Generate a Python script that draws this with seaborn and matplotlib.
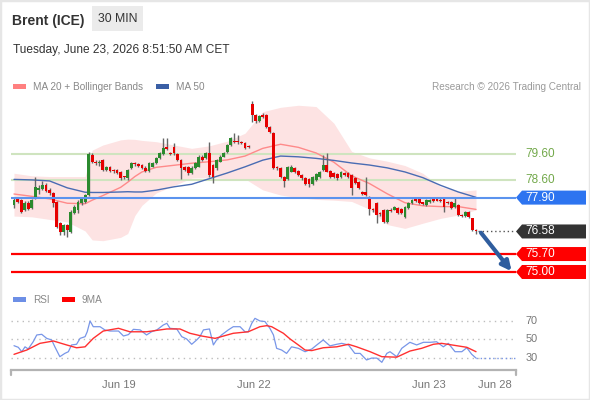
import numpy as np
import matplotlib
matplotlib.use("Agg")
import matplotlib.pyplot as plt
import seaborn as sns
from matplotlib.patches import Polygon, Rectangle
from matplotlib.transforms import blended_transform_factory

sns.set_theme(style="white")
plt.rcParams['font.family'] = ['Liberation Sans', 'DejaVu Sans']

# ---------------- data ----------------
opens = [77.62, 77.87, 77.80, 77.42, 77.70, 77.48, 77.88, 78.20, 78.22, 78.40, 78.20, 78.07, 77.74, 76.90, 76.57, 76.83, 76.57, 77.30, 77.40, 77.68, 77.74, 78.00,
         79.56, 79.30, 79.24, 79.36, 78.98, 79.08, 78.95, 78.97, 78.90, 78.72,
         78.65, 79.04, 79.24, 79.20, 79.17, 79.07, 78.92, 79.11, 79.24, 79.43, 79.59, 79.89, 79.63, 79.89, 79.59, 79.37, 79.11, 79.11, 78.85, 79.04, 79.11, 79.50, 79.43, 79.63, 79.17, 79.04, 79.30, 79.50, 79.69, 79.95, 80.12, 80.08, 80.06, 80.04, 79.90,
         81.56, 81.12, 80.89, 81.10, 81.12, 80.67, 80.41, 79.11, 79.07, 78.72, 78.63, 78.91, 79.04, 78.94, 78.78, 78.68, 78.63, 78.42, 78.59, 78.72,
         78.98, 79.17, 78.94, 78.85, 78.81, 78.72, 78.87, 78.87, 78.78, 78.66, 78.52, 78.13, 78.13,
         77.90, 77.45, 77.68, 77.29, 77.42, 76.96, 77.42, 77.42, 77.48, 77.44, 77.16, 77.48, 77.68, 77.85, 77.84, 77.70, 77.61, 77.74, 77.84, 77.81, 77.80, 77.84, 77.72, 77.74, 77.55, 77.61, 77.22, 77.18, 77.35, 77.09, 76.64]
highs = [77.92, 77.90, 77.86, 77.78, 77.76, 77.85, 78.72, 78.38, 78.56, 78.45, 78.28, 78.12, 77.78, 76.95, 76.88, 76.88, 77.40, 77.62, 77.80, 77.92, 78.05, 79.68,
         79.62, 79.36, 79.35, 79.40, 79.15, 79.12, 79.00, 79.00, 78.95, 78.76,
         79.02, 79.30, 79.28, 79.25, 79.22, 79.12, 79.28, 79.30, 79.48, 79.66, 80.21, 80.23, 79.68, 80.02, 79.62, 79.40, 79.14, 79.15, 79.12, 79.28, 79.55, 79.55, 79.68, 80.08, 79.20, 79.40, 79.55, 79.68, 80.00, 80.25, 80.40, 80.34, 80.10, 80.08, 79.95,
         81.68, 81.15, 81.12, 81.18, 81.15, 80.70, 80.45, 79.14, 79.10, 78.75, 79.15, 79.18, 79.08, 78.98, 78.82, 78.72, 78.66, 78.75, 78.85, 78.95,
         79.56, 79.63, 78.98, 78.88, 78.85, 78.95, 78.90, 78.90, 78.82, 78.70, 78.55, 78.16, 78.72,
         77.95, 77.48, 77.72, 77.35, 77.45, 77.45, 77.48, 77.58, 77.52, 77.48, 77.58, 77.72, 77.85, 77.90, 77.87, 77.74, 77.85, 77.84, 77.88, 77.85, 77.90, 77.88, 77.76, 77.78, 77.90, 77.64, 77.26, 77.38, 77.38, 77.12, 76.66]
lows = [77.50, 77.70, 77.30, 77.38, 77.40, 77.45, 77.85, 78.05, 78.18, 78.10, 78.00, 77.55, 76.70, 76.45, 76.45, 76.38, 76.52, 77.25, 77.30, 77.62, 77.70, 77.95,
        79.25, 79.18, 79.15, 78.95, 78.95, 78.88, 78.85, 78.82, 78.60, 78.62,
        78.58, 79.00, 79.15, 79.10, 79.00, 78.88, 78.88, 79.08, 79.20, 79.40, 79.56, 79.75, 79.55, 79.58, 79.33, 78.63, 78.95, 78.80, 78.82, 79.00, 79.08, 79.32, 79.40, 78.72, 78.46, 78.98, 79.27, 79.48, 79.65, 79.92, 80.02, 80.00, 80.00, 79.80, 79.84,
        80.85, 80.80, 80.85, 81.00, 80.62, 80.42, 79.00, 78.98, 78.68, 78.33, 78.58, 78.88, 78.87, 78.74, 78.60, 78.38, 78.30, 78.38, 78.56, 78.68,
        78.95, 78.88, 78.68, 78.68, 78.60, 78.68, 78.75, 78.68, 78.00, 78.44, 78.22, 78.02, 77.98,
        77.22, 77.35, 76.90, 77.20, 76.90, 76.92, 77.33, 77.40, 77.25, 77.25, 77.12, 77.45, 77.65, 77.74, 77.65, 77.63, 77.58, 77.70, 77.74, 77.75, 77.72, 77.35, 77.64, 77.45, 77.50, 77.18, 77.15, 77.14, 77.12, 76.60, 76.48]
closes = [77.80, 77.74, 77.35, 77.70, 77.45, 77.80, 78.33, 78.28, 78.40, 78.16, 78.07, 77.68, 76.77, 76.57, 76.83, 76.63, 77.35, 77.55, 77.74, 77.87, 78.00, 79.60,
          79.30, 79.24, 79.30, 78.98, 79.10, 78.92, 78.92, 78.87, 78.65, 78.70,
          78.98, 79.24, 79.20, 79.14, 79.07, 78.92, 79.24, 79.24, 79.43, 79.63, 79.82, 79.80, 79.60, 79.63, 79.37, 79.07, 78.98, 78.85, 79.07, 79.24, 79.50, 79.37, 79.63, 78.78, 78.72, 79.37, 79.50, 79.63, 79.95, 80.21, 80.06, 80.06, 80.02, 79.85, 79.88,
          81.12, 80.90, 81.08, 81.06, 80.67, 80.47, 79.04, 79.04, 78.72, 78.56, 79.11, 79.11, 78.91, 78.78, 78.65, 78.42, 78.42, 78.72, 78.81, 78.91,
          79.17, 78.91, 78.72, 78.72, 78.65, 78.91, 78.78, 78.72, 78.26, 78.47, 78.26, 78.05, 78.00,
          77.45, 77.40, 77.22, 77.25, 76.96, 77.42, 77.38, 77.55, 77.29, 77.29, 77.55, 77.68, 77.81, 77.78, 77.68, 77.67, 77.81, 77.81, 77.78, 77.78, 77.77, 77.55, 77.68, 77.48, 77.68, 77.22, 77.18, 77.35, 77.16, 76.64, 76.58]

ind_idx = [0, 5, 10, 15, 20, 22, 25, 30, 32, 34, 36, 40, 45, 50, 55, 60, 65, 70, 75, 80, 85, 90, 95, 100, 105, 110, 115, 120, 125, 130]
ma50 = [78.61, 78.59, 78.55, 78.28, 78.11, 78.10, 78.10, 78.12, 78.13, 78.12, 78.12, 78.19, 78.32, 78.42, 78.64, 78.86, 79.10, 79.36, 79.52, 79.49, 79.43, 79.35, 79.25, 79.17, 79.06, 78.90, 78.68, 78.38, 78.12, 77.91]
ma20 = [78.04, 77.95, 77.85, 77.68, 77.66, 77.80, 77.98, 78.30, 78.50, 78.72, 78.90, 79.08, 79.16, 79.24, 79.30, 79.37, 79.52, 79.82, 79.98, 79.86, 79.64, 79.28, 78.75, 78.45, 78.05, 77.70, 77.58, 77.55, 77.55, 77.44]
bb_upper = [78.85, 78.75, 78.72, 78.72, 78.72, 79.75, 79.95, 80.15, 80.18, 80.17, 80.13, 80.08, 79.95, 79.82, 79.92, 80.10, 80.41, 81.25, 81.42, 81.50, 81.45, 80.80, 79.70, 79.45, 79.32, 79.15, 78.85, 78.33, 78.14, 78.20]
bb_lower = [77.18, 77.15, 77.05, 76.95, 76.60, 76.25, 76.22, 76.35, 76.50, 77.20, 77.60, 78.08, 78.37, 78.66, 78.68, 78.64, 78.63, 78.20, 78.00, 77.90, 77.83, 77.80, 77.75, 77.45, 76.85, 76.70, 76.90, 77.09, 77.22, 77.42]

rsi_idx = [0, 1.2, 2.2, 3.1, 4.0, 5.4, 6.4, 7.8, 9.2, 10.6, 11.5, 12.9, 14.3, 15.3, 16.2, 17.6, 18.6, 20.0, 20.6, 21.4,
           22.3, 24.2, 25.6, 27.0, 29.4, 30.8, 32.2, 33.6, 35.5, 37.3, 38.7, 40.2, 42.0, 43.0, 43.9, 45.8, 47.2, 48.6, 50.0, 51.4,
           52.3, 53.3, 55.0, 56.1, 57.0, 58.4, 60.3, 61.7, 63.6, 65.0, 65.9, 66.9, 67.8, 69.2, 70.6, 72.0, 73.0, 73.9, 75.3, 76.7,
           78.1, 80.0, 81.9, 83.8, 85.2, 87.0, 88.9, 90.8, 92.2, 94.1, 95.9, 97.4, 99.2, 100.6, 102.1, 103.5, 104.9, 105.8, 107.7, 109.1,
           111.4, 113.3, 115.2, 117.1, 118.9, 120.8, 122.2, 124.1, 126.0, 127.4, 128.8, 130.0]
rsi = [43.2, 41.5, 36.8, 42.0, 39.7, 47.4, 54.6, 55.3, 51.0, 49.3, 42.0, 31.5, 35.0, 36.8, 44.0, 44.7, 51.0, 52.8, 58.0, 69.5,
       63.4, 63.4, 59.9, 58.8, 58.8, 53.5, 55.0, 60.6, 60.0, 54.6, 58.0, 60.0, 65.2, 67.0, 61.7, 61.0, 52.8, 50.3, 44.7, 49.3,
       52.8, 60.0, 61.0, 44.0, 49.3, 54.6, 60.0, 63.4, 63.4, 58.0, 58.0, 67.0, 72.3, 69.5, 68.9, 61.7, 54.6, 40.4, 38.6, 35.0,
       42.0, 40.4, 36.8, 39.7, 44.0, 49.3, 43.0, 44.7, 45.7, 44.0, 35.0, 35.0, 28.0, 30.0, 30.0, 25.5, 35.0, 36.8, 31.5, 40.4,
       46.8, 44.0, 46.8, 46.8, 47.4, 42.0, 45.7, 36.8, 36.8, 41.0, 34.0, 30.0]
rsi_ma_idx = [0, 3.6, 7.3, 11.1, 14.8, 17.6, 20.0, 22.3, 25.1, 29.4, 32.6, 37.3, 43.0, 46.7, 49.5, 52.8, 56.6, 61.7, 65.9, 69.2,
              71.1, 72.5, 75.8, 77.7, 80.0, 81.9, 83.8, 87.0, 90.8, 94.1, 96.4, 100.2, 103.5, 107.7, 111.4, 114.7, 118.0, 120.3, 123.2, 127.4, 130.0]
rsi_ma = [34.0, 38.6, 45.7, 48.2, 44.0, 41.0, 42.0, 51.0, 58.8, 61.7, 58.0, 58.0, 61.0, 61.0, 56.4, 53.5, 51.0, 56.4, 58.0, 63.4,
          64.5, 63.4, 56.4, 50.3, 44.0, 38.6, 38.0, 41.0, 42.0, 44.7, 42.0, 36.8, 31.5, 31.0, 37.5, 40.4, 44.7, 45.7, 44.0, 41.5, 36.8]

levels = [79.60, 78.60, 77.90, 76.58, 75.70, 75.00]
level_labels = ["79.60", "78.60", "77.90", "76.58", "75.70", "75.00"]
level_kinds = ["res", "res", "pivot", "last", "sup", "sup"]

rsi_levels = [70, 50, 30]
date_ticks = [29.5, 67.5, 116.8, 135.3]
date_labels = ["Jun 19", "Jun 22", "Jun 23", "Jun 28"]

arrow_x = [131.4, 140.0]
arrow_y = [76.53, 75.03]

# ---------------- layout ----------------
W, H = 590, 400
fig = plt.figure(figsize=(W / 100, H / 100), dpi=100)
fig.patch.set_facecolor("white")

X0, DX = 14.0, 3.554          # pixel of first candle, pixel per candle
PL, PR = 11.0, 516.0          # plot left / right pixel
xlim = ((PL - X0) / DX, (PR - X0) / DX)

# price panel: pixel y = 154 + (79.60 - p) * 25.65
PPU = 25.65
p_top, p_bot = 92.0, 285.0
ax = fig.add_axes([PL / W, 1 - p_bot / H, (PR - PL) / W, (p_bot - p_top) / H])
ax.set_xlim(*xlim)
ax.set_ylim(79.60 - (p_bot - 154) / PPU, 79.60 + (154 - p_top) / PPU)
ax.set_facecolor("none")
for s in ax.spines.values():
    s.set_visible(False)
ax.set_xticks([]); ax.set_yticks([])

# Bollinger band fill + MAs
ax.fill_between(ind_idx, bb_lower, bb_upper, color="#fde3e3", lw=0, zorder=0.5)
sns.lineplot(x=ind_idx, y=ma20, ax=ax, color="#ff8a8a", lw=1.0, sort=False, estimator=None, zorder=2)
sns.lineplot(x=ind_idx, y=ma50, ax=ax, color="#4a6cb3", lw=1.0, sort=False, estimator=None, zorder=2)

# level lines
n = len(closes)
green_line, green_txt = "#cfe4bf", "#72a84a"
blue_c = "#2d74f0"
red_c = "#ff0000"
for lv, kind in zip(levels, level_kinds):
    if kind == "res":
        ax.axhline(lv, color=green_line, lw=1.5, zorder=1)
    elif kind == "pivot":
        ax.axhline(lv, color="#5b93ee", lw=1.5, zorder=5)
    elif kind == "sup":
        ax.axhline(lv, color=red_c, lw=1.6, zorder=5)
    else:
        ax.hlines(lv, n - 0.5, xlim[1], color="#555555", lw=1.0, linestyles=(0, (1, 2)), zorder=5)

# candles
x = np.arange(n)
o = np.array(opens); c = np.array(closes)
cols = np.where(c >= o, "#2b8a2e", "#e60000")
ax.vlines(x, lows, highs, color="#666666", lw=1.0, zorder=3)
body = np.maximum(np.abs(c - o), 0.05)
ax.bar(x, body, bottom=np.minimum(o, c), width=0.8, color=cols, linewidth=0, zorder=4)

# right side labels
tr = blended_transform_factory(ax.transAxes, ax.transData)
hh = 7.0 / PPU
tip, bstart, bend = 1.0, 1.0 + 6 / (PR - PL), 1.0 + 70 / (PR - PL)
txt_x = 1.0 + 9 / (PR - PL)
for lv, lab, kind in zip(levels, level_labels, level_kinds):
    if kind == "res":
        ax.text(txt_x, lv, lab, transform=tr, color=green_txt, fontsize=8.5, va="center", ha="left")
        continue
    fc = {"pivot": blue_c, "last": "#333333", "sup": red_c}[kind]
    poly = Polygon([(tip, lv), (bstart, lv + hh), (bend, lv + hh), (bend, lv - hh), (bstart, lv - hh)],
                   closed=True, transform=tr, facecolor=fc, edgecolor="none", clip_on=False, zorder=6)
    ax.add_patch(poly)
    ax.text(txt_x, lv, lab, transform=tr, color="white", fontsize=8.5, va="center", ha="left", zorder=7)

# arrow
ax.annotate("", xy=(arrow_x[1], arrow_y[1]), xytext=(arrow_x[0], arrow_y[0]),
            arrowprops=dict(arrowstyle="-|>", color="#2f5d9e", lw=3, mutation_scale=14,
                            shrinkA=0, shrinkB=0),
            annotation_clip=False, zorder=8)

# ---------------- RSI panel ----------------
r_top, r_bot = 312.0, 370.0
RPU = 0.94
ax2 = fig.add_axes([PL / W, 1 - r_bot / H, (PR - PL) / W, (r_bot - r_top) / H])
ax2.set_xlim(*xlim)
ax2.set_ylim(50 - (r_bot - 339.3) / RPU, 50 + (339.3 - r_top) / RPU)
ax2.set_facecolor("none")
for k, s in ax2.spines.items():
    s.set_visible(k == "bottom")
ax2.spines["bottom"].set_color("#b3b3b3")
ax2.spines["bottom"].set_linewidth(1.6)
for lv in rsi_levels:
    ax2.axhline(lv, color="#bdbdbd", lw=1.0, ls=(0, (1, 3)), zorder=1)
    ax2.text(1.0 + 10 / (PR - PL), lv, str(lv), transform=blended_transform_factory(ax2.transAxes, ax2.transData),
             color="#777777", fontsize=7.8, va="center", ha="left")
sns.lineplot(x=rsi_idx, y=rsi, ax=ax2, color="#7896e8", lw=0.9, sort=False, estimator=None, zorder=3)
sns.lineplot(x=rsi_ma_idx, y=rsi_ma, ax=ax2, color="#ff3030", lw=1.0, sort=False, estimator=None, zorder=4)
ax2.hlines(rsi[-1], rsi_idx[-1], xlim[1], color="#7896e8", lw=1.0, linestyles=(0, (1, 2)), zorder=3)
ax2.set_yticks([])
ax2.set_xticks(date_ticks)
ax2.set_xticklabels(date_labels)
ax2.tick_params(axis="x", length=0, pad=7, labelsize=8, labelcolor="#777777")
ax2.set_xlabel(""); ax2.set_ylabel("")
ax.set_xlabel(""); ax.set_ylabel("")
for xe in (0.0, 1.0):
    ax2.plot([xe, xe], [0, -5 / (r_bot - r_top)], transform=ax2.transAxes, color="#b3b3b3", lw=1.6, clip_on=False)

# ---------------- header / legends ----------------
def fx(px): return px / W
def fy(py): return 1 - py / H

fig.text(fx(12), fy(24.7), "Brent (ICE)", fontsize=10, fontweight="bold", color="#333333", va="baseline")
fig.patches.append(Rectangle((fx(92), fy(31)), 51 / W, 25 / H, transform=fig.transFigure,
                             facecolor="#ebebeb", edgecolor="none", zorder=0))
fig.text(fx(117.5), fy(18.5), "30 MIN", fontsize=8.8, color="#333333", ha="center", va="center")
fig.text(fx(13), fy(53), "Tuesday, June 23, 2026 8:51:50 AM CET", fontsize=8.6, color="#333333", va="baseline")

fig.patches.append(Rectangle((fx(13), fy(89)), 12.5 / W, 5 / H, transform=fig.transFigure,
                             facecolor="#ff8080", edgecolor="none"))
fig.text(fx(33), fy(90.5), "MA 20 + Bollinger Bands", fontsize=7.2, color="#888888", va="baseline")
fig.patches.append(Rectangle((fx(156), fy(89)), 12.5 / W, 5 / H, transform=fig.transFigure,
                             facecolor="#3a5fa5", edgecolor="none"))
fig.text(fx(176), fy(90.5), "MA 50", fontsize=7.2, color="#888888", va="baseline")
fig.text(fx(581), fy(90), "Research \u00a9 2026 Trading Central", fontsize=7.2, color="#9a9a9a",
         va="baseline", ha="right")

fig.patches.append(Rectangle((fx(13), fy(301.5)), 12.5 / W, 5 / H, transform=fig.transFigure,
                             facecolor="#6d8fe6", edgecolor="none"))
fig.text(fx(33), fy(303), "RSI", fontsize=7.2, color="#888888", va="baseline")
fig.patches.append(Rectangle((fx(62), fy(301.5)), 12.5 / W, 5 / H, transform=fig.transFigure,
                             facecolor="#ff0000", edgecolor="none"))
fig.text(fx(82), fy(303), "9MA", fontsize=7.2, color="#888888", va="baseline")

# outer frame
fig.patches.append(Rectangle((0, 0), 1, 1, transform=fig.transFigure, facecolor="none",
                             edgecolor="#e6e6e6", lw=2.5))

fig.savefig("out.png", dpi=100)
